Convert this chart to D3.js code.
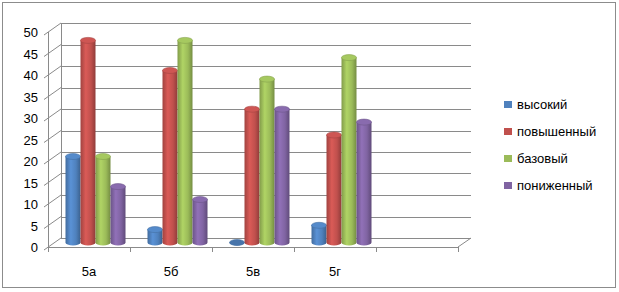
<!DOCTYPE html>
<html>
<head>
<meta charset="utf-8">
<script src="https://cdn.jsdelivr.net/npm/d3@7"></script>
<style>
  body { margin: 0; background: #fff; }
  text { font-family: "Liberation Sans", Arial, sans-serif; }
</style>
</head>
<body>
<div id="chart"></div>
<script>
// chart data
var categories = ["5а", "5б", "5в", "5г", ""];
var seriesNames = ["высокий", "повышенный", "базовый", "пониженный"];
var vysokiy = [20, 3, 0, 4];
var povyshenny = [47, 40, 31, 25];
var bazovy = [20, 47, 38, 43];
var ponizhenny = [13, 10, 31, 28];
var yTicks = [0, 5, 10, 15, 20, 25, 30, 35, 40, 45, 50];
var colors = ["#4F81BD", "#C0504D", "#9BBB59", "#8064A2"];

var series = [vysokiy, povyshenny, bazovy, ponizhenny];

var width = 619, height = 292;
var depthX = 13, depthY = -9; // 3d depth offset of back wall

var svg = d3.select("#chart").append("svg")
  .attr("width", width)
  .attr("height", height);

// outer frame
svg.append("rect")
  .attr("x", 2.5).attr("y", 2.5)
  .attr("width", 613).attr("height", 285)
  .attr("fill", "#fff")
  .attr("stroke", "#8c8c8c");

var x = d3.scaleBand().domain(categories).range([48, 458]);
var y = d3.scaleLinear().domain([0, 50]).range([247, 32]);

var defs = svg.append("defs");
colors.forEach(function(c, i) {
  var g = defs.append("linearGradient").attr("id", "cyl" + i)
    .attr("x1", "0%").attr("x2", "100%").attr("y1", "0%").attr("y2", "0%");
  var base = d3.color(c);
  g.append("stop").attr("offset", "0%").attr("stop-color", base.darker(0.5));
  g.append("stop").attr("offset", "35%").attr("stop-color", base.brighter(0.35));
  g.append("stop").attr("offset", "70%").attr("stop-color", base);
  g.append("stop").attr("offset", "100%").attr("stop-color", base.darker(0.8));
});

var grid = svg.append("g").attr("stroke", "#8a8a8a").attr("fill", "none").attr("stroke-width", 1);

// back wall gridlines
grid.selectAll("line.h").data(yTicks).enter().append("line")
  .attr("x1", 48 + depthX).attr("x2", 458 + depthX)
  .attr("y1", function(d) { return Math.round(y(d) + depthY) + 0.5; })
  .attr("y2", function(d) { return Math.round(y(d) + depthY) + 0.5; });

// side wall diagonals + y ticks
grid.selectAll("line.d").data(yTicks).enter().append("line")
  .attr("x1", 44).attr("x2", 48 + depthX)
  .attr("y1", function(d) { return y(d) + 3; })
  .attr("y2", function(d) { return y(d) + depthY; });

// back left edge of wall
grid.append("line")
  .attr("x1", 48 + depthX + 0.5).attr("x2", 48 + depthX + 0.5)
  .attr("y1", y(50) + depthY).attr("y2", y(0) + depthY);

// front vertical axis
grid.append("line")
  .attr("x1", 48.5).attr("x2", 48.5)
  .attr("y1", y(50)).attr("y2", y(0));

// floor
grid.append("line")
  .attr("x1", 48).attr("x2", 458)
  .attr("y1", y(0) + 0.5).attr("y2", y(0) + 0.5);
grid.append("line")
  .attr("x1", 458).attr("x2", 458 + depthX)
  .attr("y1", y(0)).attr("y2", y(0) + depthY);

// category ticks
grid.selectAll("line.t").data(categories.concat(["end"])).enter().append("line")
  .attr("x1", function(d, i) { return Math.round(48 + i * x.bandwidth()) + 0.5; })
  .attr("x2", function(d, i) { return Math.round(48 + i * x.bandwidth()) + 0.5; })
  .attr("y1", y(0)).attr("y2", y(0) + 5);

// y labels
svg.append("g").selectAll("text").data(yTicks).enter().append("text")
  .attr("x", 38).attr("y", function(d) { return y(d) + 5; })
  .attr("text-anchor", "end")
  .attr("font-size", 13)
  .attr("fill", "#000")
  .text(function(d) { return d; });

// x labels
svg.append("g").selectAll("text").data(categories).enter().append("text")
  .attr("x", function(d) { return x(d) + x.bandwidth() / 2; })
  .attr("y", 276)
  .attr("text-anchor", "middle")
  .attr("font-size", 13)
  .attr("fill", "#000")
  .text(function(d) { return d; });

// cylinders
var barW = 15, ry = 3;
var inner = d3.scaleBand().domain(d3.range(series.length)).range([0, 60]);
var bars = svg.append("g");
categories.slice(0, 4).forEach(function(cat, ci) {
  var gx = x(cat) + x.bandwidth() / 2 - 30 + depthX / 2;
  series.forEach(function(s, si) {
    var v = s[ci];
    var bx = gx + inner(si);
    var yb = y(0) + depthY / 2;
    var yt = y(v) + depthY / 2;
    var cx = bx + barW / 2;
    var c = d3.color(colors[si]);
    var grp = bars.append("g");
    // body
    grp.append("path")
      .attr("d", "M" + bx + "," + yt + " L" + bx + "," + yb +
        " A" + barW / 2 + "," + ry + " 0 0 0 " + (bx + barW) + "," + yb +
        " L" + (bx + barW) + "," + yt + " Z")
      .attr("fill", "url(#cyl" + si + ")");
    // top cap
    grp.append("ellipse")
      .attr("cx", cx).attr("cy", yt)
      .attr("rx", barW / 2).attr("ry", ry)
      .attr("fill", v === 0 ? c.darker(0.3) : c.brighter(0.2))
      .attr("stroke", c.darker(0.4)).attr("stroke-width", 0.6);
  });
});

// legend
var legend = svg.append("g");
seriesNames.forEach(function(name, i) {
  var ly = 101 + i * 27;
  legend.append("rect")
    .attr("x", 504).attr("y", ly)
    .attr("width", 8).attr("height", 7)
    .attr("fill", colors[i]);
  legend.append("text")
    .attr("x", 517).attr("y", ly + 8)
    .attr("font-size", 13)
    .attr("fill", "#000")
    .text(name);
});
</script>
</body>
</html>
